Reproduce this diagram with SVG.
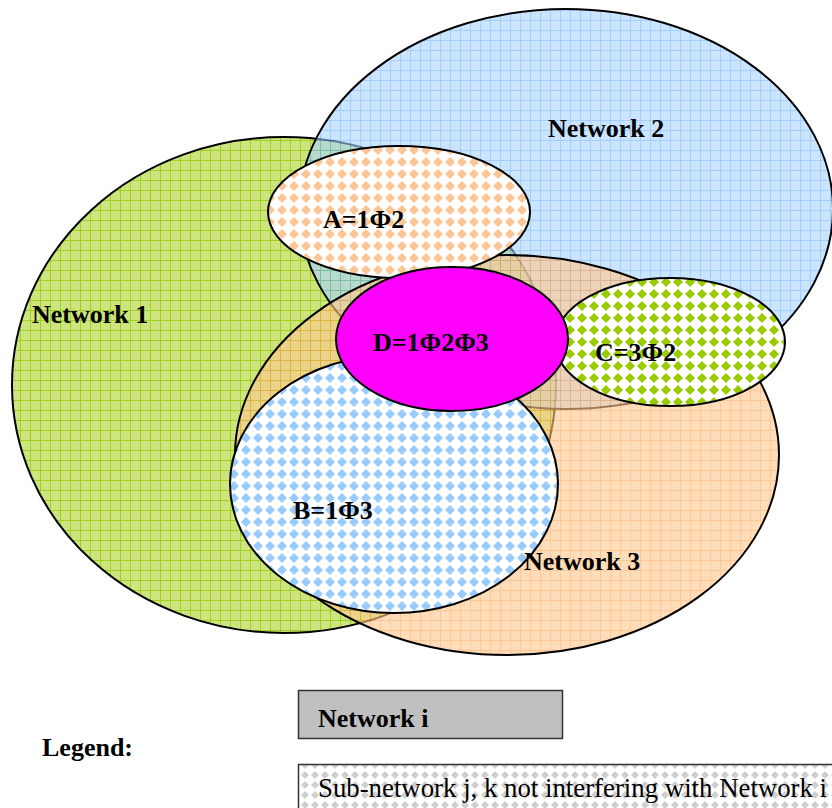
<svg xmlns="http://www.w3.org/2000/svg" width="832" height="808" viewBox="0 0 832 808">
  <style>
    .outline { stroke: #000; stroke-width: 2; }
    .label { font-family: "Liberation Serif", "Times New Roman", serif; font-size: 26px; font-weight: bold; fill: #000; }
    .plain { font-family: "Liberation Serif", "Times New Roman", serif; font-size: 26.8px; fill: #000; }
  </style>
  <defs>
    <!-- small-grid fills for the three networks -->
    <pattern id="grid-green" width="10" height="10" patternUnits="userSpaceOnUse">
      <rect width="10" height="10" fill="#cde47f"/>
      <path d="M0 0.5H10M0.5 0V10" stroke="#a0d020" stroke-width="1"/>
    </pattern>
    <pattern id="grid-blue" width="10" height="10" patternUnits="userSpaceOnUse">
      <rect width="10" height="10" fill="#aad4ff"/>
      <path d="M0 0.5H10M0.5 0V10" stroke="#66aeff" stroke-width="1"/>
    </pattern>
    <pattern id="grid-orange" width="10" height="10" patternUnits="userSpaceOnUse">
      <rect width="10" height="10" fill="#ffc890"/>
      <path d="M0 0.5H10M0.5 0V10" stroke="#ffa552" stroke-width="1"/>
    </pattern>
    <!-- diamond checkerboard fills for the sub-networks -->
    <path id="dia" d="M6 1L11 6L6 11L1 6Z"/>
    <pattern id="dia-orange" width="12" height="12" patternUnits="userSpaceOnUse">
      <rect width="12" height="12" fill="#fff"/>
      <use href="#dia" fill="#fcc596"/>
    </pattern>
    <pattern id="dia-blue" width="12" height="12" patternUnits="userSpaceOnUse">
      <rect width="12" height="12" fill="#fff"/>
      <use href="#dia" fill="#99cbff"/>
    </pattern>
    <pattern id="dia-green" width="12" height="12" patternUnits="userSpaceOnUse">
      <rect width="12" height="12" fill="#fff"/>
      <use href="#dia" fill="#99cc00"/>
    </pattern>
    <pattern id="dia-gray" width="10" height="10" patternUnits="userSpaceOnUse">
      <rect width="10" height="10" fill="#fff"/>
      <path d="M5 1L9 5L5 9L1 5Z" fill="#cfcfcf"/>
    </pattern>
  </defs>

  <rect width="832" height="808" fill="#fff"/>

  <!-- networks -->
  <g id="network1">
    <ellipse cx="284" cy="385" rx="272" ry="248" fill="url(#grid-green)" class="outline"/>
  </g>
  <g id="network2">
    <ellipse cx="566" cy="209" rx="267" ry="200" fill="url(#grid-blue)" fill-opacity="0.6" class="outline"/>
  </g>
  <g id="network3">
    <ellipse cx="507" cy="455" rx="272" ry="200" fill="url(#grid-orange)" fill-opacity="0.62" class="outline"/>
  </g>

  <!-- sub-networks -->
  <g id="subnet-a">
    <ellipse cx="399" cy="212" rx="131" ry="66" fill="url(#dia-orange)" class="outline"/>
    <text class="label" x="323" y="228">A=1Φ2</text>
  </g>
  <g id="subnet-b">
    <ellipse cx="394" cy="484" rx="164" ry="129" fill="url(#dia-blue)" class="outline"/>
    <text class="label" x="293" y="519">B=1Φ3</text>
  </g>
  <g id="subnet-c">
    <ellipse cx="670" cy="342" rx="115" ry="64" fill="url(#dia-green)" class="outline"/>
    <text class="label" x="595" y="361">C=3Φ2</text>
  </g>
  <g id="subnet-d">
    <ellipse cx="452" cy="339" rx="116" ry="72" fill="#ff00ff" class="outline"/>
    <text class="label" x="373" y="351">D=1Φ2Φ3</text>
  </g>

  <!-- network labels -->
  <g id="network-labels">
    <text class="label" x="32" y="323">Network 1</text>
    <text class="label" x="548" y="137">Network 2</text>
    <text class="label" x="524" y="570">Network 3</text>
  </g>

  <!-- legend -->
  <g id="legend">
    <text class="label" x="42" y="756">Legend:</text>
    <rect x="298.5" y="690.5" width="264" height="48" fill="#c0c0c0" stroke="#333" stroke-width="1.5"/>
    <text class="label" x="318" y="727">Network i</text>
    <rect x="298.5" y="764.5" width="560" height="60" fill="url(#dia-gray)" stroke="#333" stroke-width="1.5"/>
    <text class="plain" x="318" y="797">Sub-network j, k not interfering with Network i</text>
  </g>
</svg>
